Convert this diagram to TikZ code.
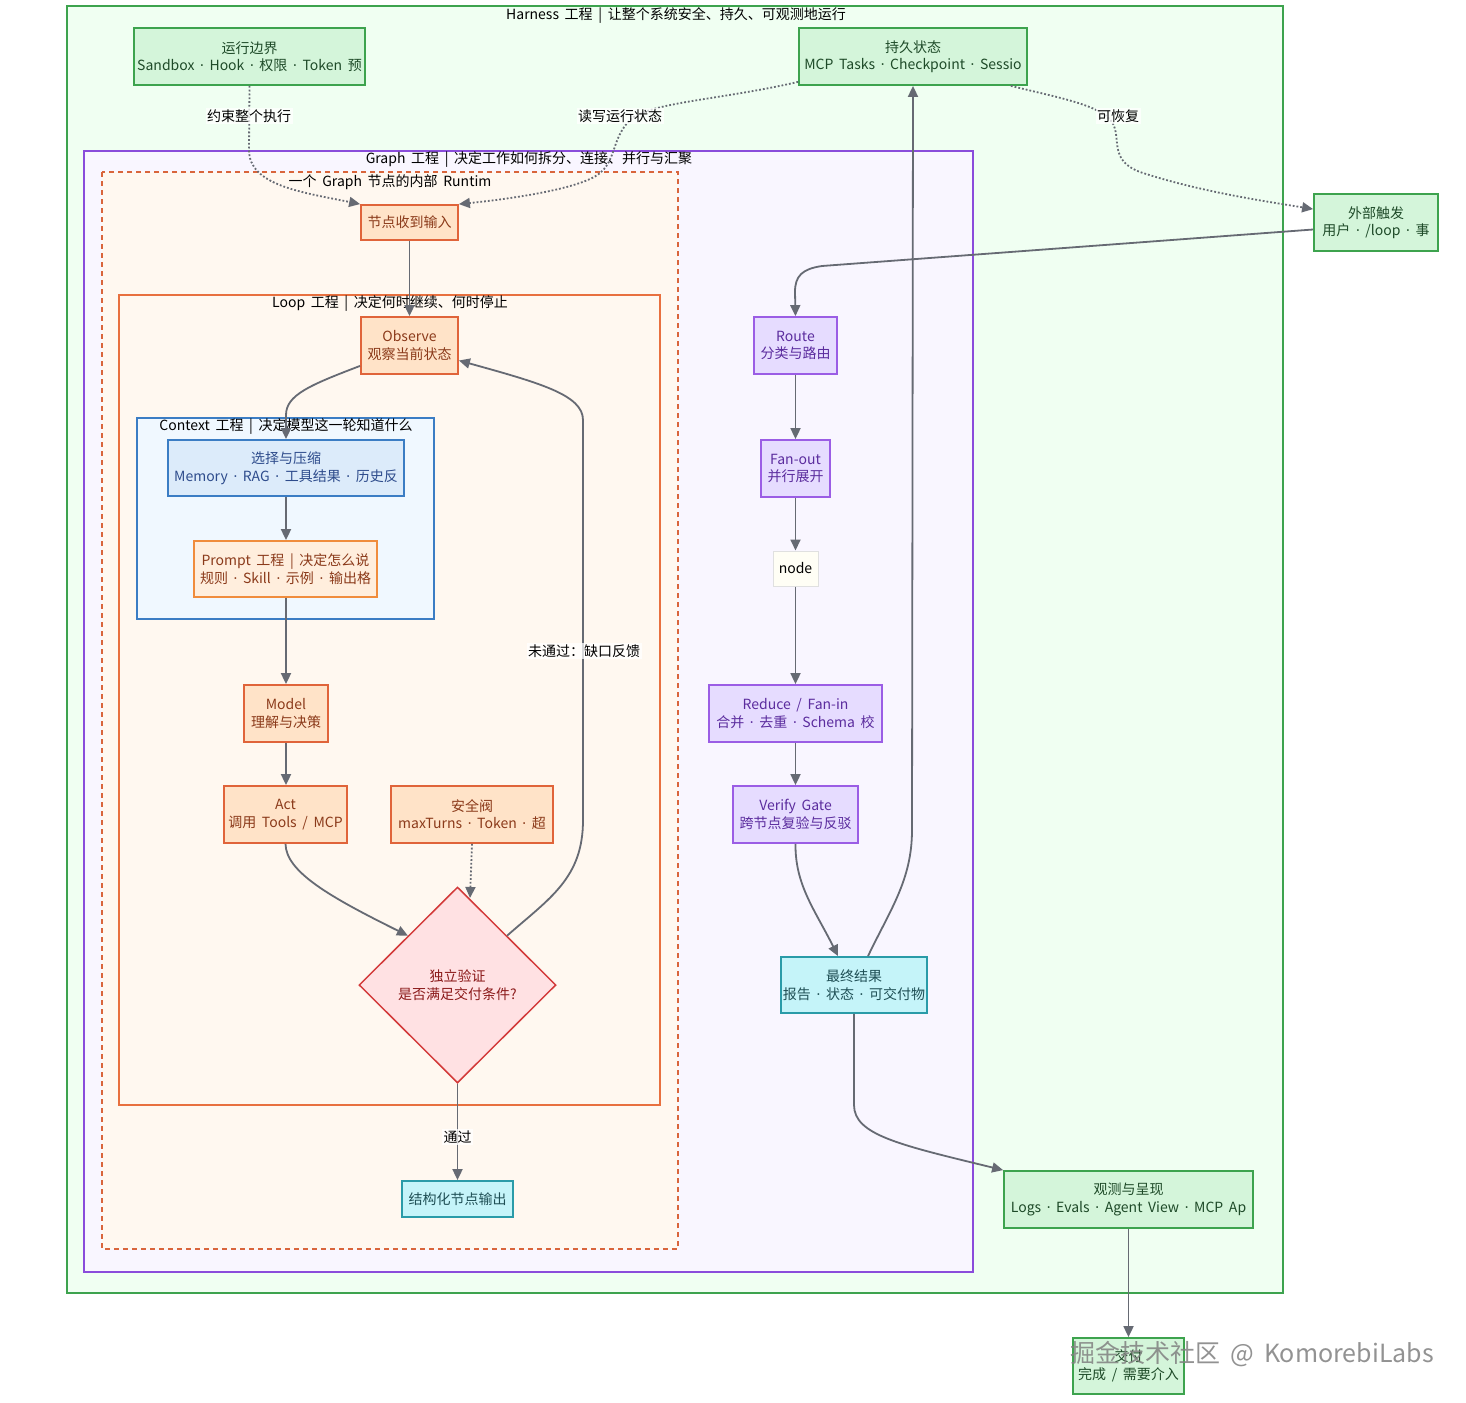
\documentclass[tikz,border=0pt]{standalone}
\usepackage{fontspec}
\setmainfont[WordSpace=1.8]{Noto Sans CJK SC}
\newfontfamily\notolat{Noto Sans}
\newcommand{\md}{{\notolat ·}}
\usetikzlibrary{arrows.meta,shapes.geometric,calc}
\definecolor{hfill}{HTML}{F0FFF2}
\definecolor{hdraw}{HTML}{3DA34E}
\definecolor{gnfill}{HTML}{D4F5DA}
\definecolor{gtext}{HTML}{1E4A28}
\definecolor{grfill}{HTML}{F9F6FF}
\definecolor{grdraw}{HTML}{8A4CDB}
\definecolor{rfill}{HTML}{FFF8F0}
\definecolor{rdraw}{HTML}{D9653B}
\definecolor{ldraw}{HTML}{E8703F}
\definecolor{cfill}{HTML}{F0F8FF}
\definecolor{cdraw}{HTML}{3B7DC4}
\definecolor{ofill}{HTML}{FFE3C8}
\definecolor{odraw}{HTML}{E0643A}
\definecolor{otext}{HTML}{8B3A1A}
\definecolor{pfill}{HTML}{FFEEDD}
\definecolor{pdraw}{HTML}{F08C3C}
\definecolor{sfill}{HTML}{DCEBFA}
\definecolor{stext}{HTML}{2E4C8C}
\definecolor{vfill}{HTML}{E6DCFF}
\definecolor{vdraw}{HTML}{9B5DE5}
\definecolor{vtext}{HTML}{5B2C9E}
\definecolor{cyfill}{HTML}{C5F4F9}
\definecolor{cydraw}{HTML}{2A9BA8}
\definecolor{cytext}{HTML}{1F4F55}
\definecolor{dfill}{HTML}{FFE1E3}
\definecolor{ddraw}{HTML}{D33B3B}
\definecolor{dtext}{HTML}{8B1A1A}
\definecolor{ecol}{HTML}{666A73}
\begin{document}
\begin{tikzpicture}[x=1pt,y=-1pt,
  base/.style={font=\fontsize{14}{17.5}\selectfont, align=center, inner sep=0pt, line width=1.8pt},
  greenbox/.style={base, draw=hdraw, fill=gnfill, text=gtext},
  orangebox/.style={base, draw=odraw, fill=ofill, text=otext},
  promptbox/.style={base, draw=pdraw, fill=pfill, text=otext},
  selbox/.style={base, draw=cdraw, fill=sfill, text=stext},
  purplebox/.style={base, draw=vdraw, fill=vfill, text=vtext},
  cyanbox/.style={base, draw=cydraw, fill=cyfill, text=cytext},
  plainbox/.style={base, draw=black!12, fill=white!96!yellow, text=black, line width=1pt},
  grouptitle/.style={font=\fontsize{14}{16}\selectfont, text=black, inner sep=1pt},
  edge/.style={draw=ecol, line width=1.8pt, -{Triangle[length=11pt,width=10pt]}},
  dotedge/.style={edge, dotted, line width=1.8pt},
  elabel/.style={font=\fontsize{14}{16}\selectfont, fill=white, fill opacity=0.75, text opacity=1, inner sep=1.5pt, text=black}
]
\useasboundingbox (0,0) rectangle (1466,1402);
\fill[white] (0,0) rectangle (1466,1402);

% group boxes
\draw[hdraw, fill=hfill, line width=2.5pt] (67,6) rectangle (1283,1293);
\node[grouptitle] (tharness) at (676,15) {Harness 工程 | 让整个系统安全、持久、可观测地运行};
\draw[grdraw, fill=grfill, line width=2.5pt] (84,151) rectangle (973,1272);
\node[grouptitle] (tgraph) at (529,160) {Graph 工程 | 决定工作如何拆分、连接、并行与汇聚};
\draw[rdraw, fill=rfill, line width=1.8pt, dashed, dash pattern=on 5pt off 4pt] (102,172) rectangle (678,1249);
\node[grouptitle] (trun) at (390,182) {一个 Graph 节点的内部 Runtim};
\draw[ldraw, fill=rfill, line width=1.8pt] (119,295) rectangle (660,1105);
\node[grouptitle] (tloop) at (390,304) {Loop 工程 | 决定何时继续、何时停止};
\draw[cdraw, fill=cfill, line width=1.8pt] (137,418) rectangle (434,619);
\node[grouptitle] (tctx) at (286,427) {Context 工程 | 决定模型这一轮知道什么};

% harness nodes
\node[greenbox, minimum width=231pt, minimum height=57pt] (bound) at (249.5,56.5) {运行边界\\Sandbox \md{} Hook \md{} 权限 \md{} Token 预};
\node[greenbox, minimum width=228pt, minimum height=57pt] (persist) at (913,56.5) {持久状态\\MCP Tasks \md{} Checkpoint \md{} Sessio};
\node[greenbox, minimum width=124pt, minimum height=57pt] (trigger) at (1376,222.5) {外部触发\\用户 \md{} /loop \md{} 事};
\node[greenbox, minimum width=249pt, minimum height=57pt] (obs) at (1128.5,1199.5) {观测与呈现\\Logs \md{} Evals \md{} Agent View \md{} MCP Ap};
\node[greenbox, minimum width=111pt, minimum height=56pt] (done) at (1128.5,1366) {交付\\完成 / 需要介入};

% runtime nodes
\node[orangebox, minimum width=97pt, minimum height=35pt] (recv) at (409.5,222.5) {节点收到输入};
\node[orangebox, minimum width=97pt, minimum height=57pt] (observe) at (409.5,345.5) {Observe\\观察当前状态};
\node[selbox, minimum width=236pt, minimum height=56pt] (select) at (286,468) {选择与压缩\\Memory \md{} RAG \md{} 工具结果 \md{} 历史反};
\node[promptbox, minimum width=183pt, minimum height=56pt] (prompt) at (285.5,569) {Prompt 工程 | 决定怎么说\\规则 \md{} Skill \md{} 示例 \md{} 输出格};
\node[orangebox, minimum width=84pt, minimum height=57pt] (model) at (286,713.5) {Model\\理解与决策};
\node[orangebox, minimum width=123pt, minimum height=57pt] (act) at (285.5,814.5) {Act\\调用 Tools / MCP};
\node[orangebox, minimum width=162pt, minimum height=57pt] (valve) at (472,814.5) {安全阀\\maxTurns \md{} Token \md{} 超};
\node[base, diamond, draw=ddraw, fill=dfill, text=dtext, minimum width=197pt, minimum height=196pt, line width=1.5pt] (dia) at (457.5,985) {独立验证\\是否满足交付条件?};
\node[cyanbox, minimum width=111pt, minimum height=36pt] (output) at (457.5,1199) {结构化节点输出};

% graph nodes
\node[purplebox, minimum width=83pt, minimum height=57pt] (route) at (795.5,345.5) {Route\\分类与路由};
\node[purplebox, minimum width=69pt, minimum height=57pt] (fanout) at (795.5,468.5) {Fan-out\\并行展开};
\node[plainbox, minimum width=45pt, minimum height=35pt] (nodeN) at (795.5,568.5) {node};
\node[purplebox, minimum width=173pt, minimum height=57pt] (reduce) at (795.5,713.5) {Reduce / Fan-in\\合并 \md{} 去重 \md{} Schema 校};
\node[purplebox, minimum width=125pt, minimum height=57pt] (verify) at (795.5,814.5) {Verify Gate\\跨节点复验与反驳};
\node[cyanbox, minimum width=146pt, minimum height=56pt] (final) at (854,985) {最终结果\\报告 \md{} 状态 \md{} 可交付物};

% coordinates
\coordinate (vend) at (470,898);

% edges
\draw[dotedge] (bound.south) -- (249,150) .. controls (249,185) and (300,192) .. (recv.north west);
\node[elabel] (l1) at (249,116) {约束整个执行};
\draw[dotedge] ($(persist.south west)+(0,-4)$) .. controls (720,100) and (650,102) .. (630,120) .. controls (612,138) and (616,160) .. (600,173) .. controls (580,190) and (500,200) .. (recv.north east);
\node[elabel] (l2) at (620,116) {读写运行状态};
\draw[dotedge] ($(persist.south east)+(-17,0)$) .. controls (1060,98) and (1100,105) .. (1112,122) .. controls (1122,138) and (1108,160) .. (1140,172) .. controls (1200,192) and (1270,202) .. ($(trigger.north west)+(0,16)$);
\node[elabel] (l3) at (1118,116) {可恢复};
\draw[edge] ($(trigger.west)+(0,7)$) -- (822,266) .. controls (802,269) and (795,276) .. (795,292) -- (route.north);
\draw[edge] ($(final.north)+(14,0)$) .. controls (890,910) and (912,880) .. (912,830) -- (persist.south);
\draw[edge] (final.south) -- (854,1105) .. controls (854,1135) and (900,1145) .. (obs.north west);
\draw[edge] (obs.south) -- (done.north);

\draw[edge] (recv.south) -- (observe.north);
\draw[edge] ($(observe.south west)+(0,-9)$) .. controls (310,385) and (286,395) .. (286,415) -- (select.north);
\draw[edge] (select.south) -- (select.south |- prompt.north);
\draw[edge] (select.south |- prompt.south) -- (model.north);
\draw[edge] (model.south) -- (model.south |- act.north);
\draw[edge] (act.south) .. controls (286,872) and (330,897) .. (dia.north west);
\draw[dotedge] (valve.south) -- (vend);
\draw[edge] (dia.north east) .. controls (550,898) and (583,878) .. (583,820) -- (583,420) .. controls (583,395) and (540,383) .. ($(observe.east)+(0,15)$);
\node[elabel] (l4) at (584,651) {未通过：缺口反馈};
\draw[edge] (dia.south) -- (output.north) node[elabel, pos=0.55] (l5) {通过};

\draw[edge] (route.south) -- (fanout.north);
\draw[edge] (fanout.south) -- (nodeN.north);
\draw[edge] (nodeN.south) -- (reduce.north);
\draw[edge] (reduce.south) -- (verify.north);
\draw[edge] (verify.south) .. controls (795,885) and (815,910) .. ($(final.north)+(-16,0)$);

% watermark
\node[font=\fontsize{25}{28}\selectfont, text=gray, text opacity=0.85, inner sep=0pt] (wm) at (1252,1354) {掘金技术社区 @ KomorebiLabs};
\end{tikzpicture}
\end{document}
